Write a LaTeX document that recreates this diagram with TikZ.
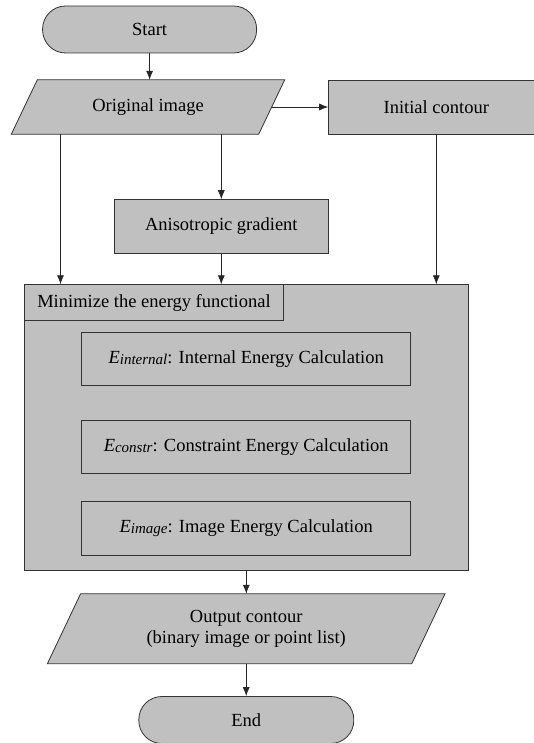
\documentclass[tikz,border=0pt]{standalone}
\usepackage{fontspec}
\setmainfont{Liberation Serif}
\usepackage{xcolor}
\usetikzlibrary{arrows.meta,calc,backgrounds}
\definecolor{boxgray}{RGB}{192,192,192}
\newcommand{\Esub}[1]{\textit{E}\raisebox{-1.5pt}{\fontsize{15}{15}\selectfont\textit{#1}}}

\begin{document}
\begin{tikzpicture}[x=1pt,y=-1pt,
    every node/.style={font=\fontsize{18.5}{21.5}\selectfont,inner sep=0pt},
    box/.style={draw=black!80,line width=0.8pt,fill=boxgray,rectangle},
    term/.style={box,rounded corners=23pt},
    io/.style={rectangle},
    arr/.style={draw=black!85,line width=0.7pt,-{Latex[length=9pt,width=7pt]}}]
        \useasboundingbox (0,0) rectangle (533,743);

        \node[term,minimum width=214pt,minimum height=47pt] (start) at (149.6,29.5) {Start};
        \node[io,minimum width=247pt,minimum height=54pt] (orig) at (148,107) {Original image};
        \node[box,minimum width=215.4pt,minimum height=54pt] (init) at (436.3,107) {Initial contour};
        \node[box,minimum width=214.6pt,minimum height=53.7pt] (aniso) at (221.3,226.5) {Anisotropic gradient};

        \node[box,minimum width=444pt,minimum height=285.3pt] (mini) at (246.3,427.35) {};
        \node[box,anchor=north west,minimum width=259.4pt,minimum height=35.6pt] (tab) at (mini.north west) {Minimize the energy functional};
        \node[box,minimum width=329pt,minimum height=53.4pt] (eint) at (246.2,359) {\Esub{internal}: Internal Energy Calculation};
        \node[box,minimum width=329pt,minimum height=53.4pt] (econ) at (246.2,446.7) {\Esub{constr}: Constraint Energy Calculation};
        \node[box,minimum width=329pt,minimum height=53.4pt] (eimg) at (246.2,528.3) {\Esub{image}: Image Energy Calculation};

        \node[io,minimum width=364pt,minimum height=69.5pt,align=center] (out) at (246.2,628.7) {Output contour\\(binary image or point list)};
        \node[term,minimum width=215pt,minimum height=47pt] (end) at (246.3,720) {End};

        \begin{scope}[on background layer]
            \draw[box] ([xshift=-13pt]orig.south west) -- ([xshift=13pt]orig.north west) -- ([xshift=13pt]orig.north east) -- ([xshift=-13pt]orig.south east) -- cycle;
            \draw[box] ([xshift=-16.6pt]out.south west) -- ([xshift=16.6pt]out.north west) -- ([xshift=16.6pt]out.north east) -- ([xshift=-16.6pt]out.south east) -- cycle;
        \end{scope}

        \draw[arr] (start.south) -- (start.south |- orig.north);
        \draw[arr] (orig.east) -- (init.west);
        \draw[arr] (orig.south -| aniso.north) -- (aniso.north);
        \draw[arr] ([xshift=-87.5pt]orig.south) -- ([xshift=-87.5pt]orig.south |- mini.north);
        \draw[arr] (aniso.south) -- (aniso.south |- mini.north);
        \draw[arr] (init.south) -- (init.south |- mini.north);
        \draw[arr] (mini.south) -- (mini.south |- out.north);
        \draw[arr] (out.south) -- (out.south |- end.north);
    \end{tikzpicture}
\end{document}
